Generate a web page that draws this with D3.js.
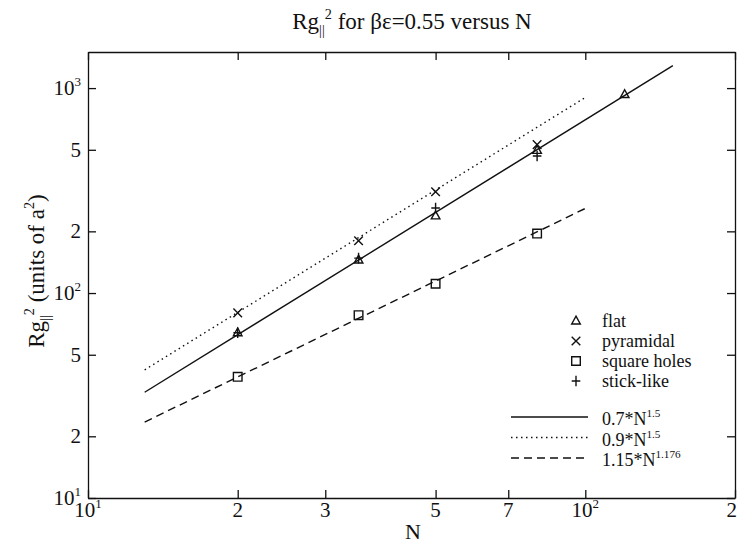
<!DOCTYPE html>
<html>
<head>
<meta charset="utf-8">
<script src="https://cdn.jsdelivr.net/npm/d3@7"></script>
<style>
  html, body { margin: 0; padding: 0; background: #fff; }
  svg { display: block; }
  text { font-family: "Liberation Serif", "Times New Roman", "DejaVu Serif", serif; fill: #111; }
</style>
</head>
<body>
<svg id="chart" width="738" height="548"></svg>
<script>
// ---------------- data ----------------
const flatN = [20, 35, 50, 80, 120];
const flatV = [64, 145, 238, 497, 930];
const pyramidalN = [20, 35, 50, 80];
const pyramidalV = [80, 180, 312, 530];
const squareN = [20, 35, 50, 80];
const squareV = [39, 78, 111, 195];
const stickN = [20, 35, 50, 80];
const stickV = [64, 148, 260, 466];

// fitted power laws  a * N^b drawn between N0 and N1
const fitCoef = [0.7, 0.9, 1.15];
const fitExp = [1.5, 1.5, 1.176];
const fitN0 = [13, 13, 13];
const fitN1 = [150, 100, 100];
const fitLabels = [["0.7*N", "1.5"], ["0.9*N", "1.5"], ["1.15*N", "1.176"]];

const seriesNames = ["flat", "pyramidal", "square holes", "stick-like"];

const xTicks = [10, 20, 30, 50, 70, 100, 200];
const xTickLabels = ["10^1", "2", "3", "5", "7", "10^2", "2"];
const yTicks = [10, 20, 50, 100, 200, 500, 1000];
const yTickLabels = ["10^1", "2", "5", "10^2", "2", "5", "10^3"];

// ---------------- layout ----------------
const W = 738;
const svg = d3.select("#chart");
const L = 88, R = 735, T = 52, B = 498;
const x = d3.scaleLog().domain([10, 200]).range([L, R]);
const y = d3.scaleLog().domain([10, 1500]).range([B, T]);
const ink = "#111";

function rich(sel, parts, fs) {
  let cur = 0;
  parts.forEach(([t, k]) => {
    const target = k === "sup" ? -fs * 0.42 : k === "sub" ? fs * 0.28 : 0;
    sel.append("tspan")
      .attr("dy", target - cur)
      .attr("font-size", k === "n" ? fs : fs * 0.62)
      .text(t);
    cur = target;
  });
}
function tickParts(s) {
  if (s.includes("^")) { const [a, b] = s.split("^"); return [[a, "n"], [b, "sup"]]; }
  return [[s, "n"]];
}

// axes (ticks inward on all four sides)
function styleAxis(g) {
  g.selectAll("path, line").attr("stroke", ink).attr("stroke-width", 1.3);
  g.selectAll("text").remove();
}
svg.append("g").attr("transform", `translate(0,${B})`)
  .call(d3.axisBottom(x).tickValues(xTicks).tickSize(-8).tickSizeOuter(0)).call(styleAxis);
svg.append("g").attr("transform", `translate(0,${T})`)
  .call(d3.axisTop(x).tickValues(xTicks).tickSize(-8).tickSizeOuter(0)).call(styleAxis);
svg.append("g").attr("transform", `translate(${L},0)`)
  .call(d3.axisLeft(y).tickValues(yTicks).tickSize(-8).tickSizeOuter(0)).call(styleAxis);
svg.append("g").attr("transform", `translate(${R},0)`)
  .call(d3.axisRight(y).tickValues(yTicks).tickSize(-8).tickSizeOuter(0)).call(styleAxis);

// tick labels
const tickFs = 21;
xTicks.forEach((v, i) => {
  const atEdge = x(v) + 6 > W;
  const t = svg.append("text").attr("x", atEdge ? W - 1 : x(v)).attr("y", B + 19)
    .attr("text-anchor", atEdge ? "end" : "middle").attr("font-size", tickFs);
  rich(t, tickParts(xTickLabels[i]), tickFs);
});
yTicks.forEach((v, i) => {
  const t = svg.append("text").attr("x", L - 7).attr("y", y(v) + 7)
    .attr("text-anchor", "end").attr("font-size", tickFs);
  rich(t, tickParts(yTickLabels[i]), tickFs);
});

// titles
const title = svg.append("text").attr("x", 412).attr("y", 29)
  .attr("text-anchor", "middle").attr("font-size", 23);
rich(title, [["Rg", "n"], ["||", "sub"], ["2", "sup"], [" for βε=0.55 versus N", "n"]], 23);

svg.append("text").attr("x", 413).attr("y", 539)
  .attr("text-anchor", "middle").attr("font-size", 22).text("N");

const yl = svg.append("text").attr("transform", `translate(44,271) rotate(-90)`)
  .attr("text-anchor", "middle").attr("font-size", 23);
rich(yl, [["Rg", "n"], ["||", "sub"], ["2", "sup"], [" (units of a", "n"], ["2", "sup"], [")", "n"]], 23);

// fit lines
const dashes = [null, "1.5,3.5", "8,5"];
const line = d3.line().x(d => x(d[0])).y(d => y(d[1]));
fitCoef.forEach((a, i) => {
  const pts = [fitN0[i], fitN1[i]].map(n => [n, a * Math.pow(n, fitExp[i])]);
  svg.append("path").datum(pts).attr("d", line)
    .attr("fill", "none").attr("stroke", ink).attr("stroke-width", 1.4)
    .attr("stroke-dasharray", dashes[i]);
});

// markers
const ms = 4.3;
function drawMarker(g, kind, cx, cy) {
  const p = d3.path();
  if (kind === 0) { // triangle
    p.moveTo(cx, cy - ms - 0.5); p.lineTo(cx + ms, cy + ms * 0.7); p.lineTo(cx - ms, cy + ms * 0.7); p.closePath();
  } else if (kind === 1) { // x
    p.moveTo(cx - ms, cy - ms); p.lineTo(cx + ms, cy + ms); p.moveTo(cx - ms, cy + ms); p.lineTo(cx + ms, cy - ms);
  } else if (kind === 2) { // square
    p.rect(cx - ms, cy - ms, 2 * ms, 2 * ms);
  } else { // plus
    p.moveTo(cx - ms, cy); p.lineTo(cx + ms, cy); p.moveTo(cx, cy - ms - 1); p.lineTo(cx, cy + ms + 1);
  }
  g.append("path").attr("d", p.toString()).attr("fill", "none")
    .attr("stroke", ink).attr("stroke-width", 1.4);
}
const series = [[flatN, flatV], [pyramidalN, pyramidalV], [squareN, squareV], [stickN, stickV]];
const mg = svg.append("g");
series.forEach(([ns, vs], k) => {
  ns.forEach((n, i) => drawMarker(mg, k, x(n), y(vs[i])));
});

// legend: markers
const lgX = 576, lgY0 = 321, lgDy = 20, lgFs = 18;
seriesNames.forEach((name, k) => {
  const cy = lgY0 + k * lgDy;
  drawMarker(mg, k, lgX, cy);
  svg.append("text").attr("x", lgX + 26).attr("y", cy + 6).attr("font-size", lgFs).text(name);
});
// legend: lines
const llY0 = 417, llDy = 20.5;
fitLabels.forEach((lab, i) => {
  const cy = llY0 + i * llDy;
  svg.append("line").attr("x1", 511).attr("x2", 588).attr("y1", cy).attr("y2", cy)
    .attr("stroke", ink).attr("stroke-width", 1.3).attr("stroke-dasharray", dashes[i]);
  const t = svg.append("text").attr("x", 602).attr("y", cy + 8).attr("font-size", lgFs);
  rich(t, [[lab[0], "n"], [lab[1], "sup"]], lgFs);
});
</script>
</body>
</html>
